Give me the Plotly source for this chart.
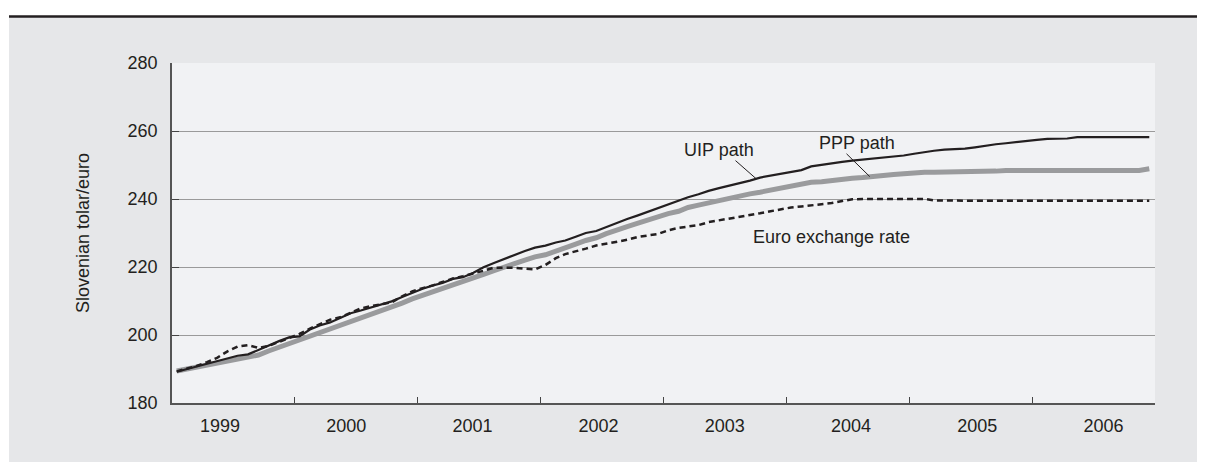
import pandas as pd
import plotly.graph_objects as go

# ---------------- data ----------------
months = pd.date_range("1999-01-01", "2006-12-01", freq="MS") + pd.Timedelta(days=14)

uip_path = [
    189.2, 190.0, 190.7, 191.4, 192.2, 193.0, 193.9, 194.3, 195.6, 197.0, 198.2, 199.3,
    199.6, 201.6, 202.8, 203.7, 205.0, 206.4, 207.2, 208.1, 208.9, 209.9, 211.2, 212.4,
    213.6, 214.6, 215.3, 216.5, 217.0, 218.3, 219.9, 221.2, 222.4, 223.6, 224.7, 225.7,
    226.3, 227.2, 227.8, 228.9, 230.0, 230.6, 231.8, 233.0, 234.1, 235.1, 236.2, 237.3,
    238.4, 239.6, 240.5, 241.4, 242.4, 243.2, 243.9, 244.6, 245.4, 246.3, 246.9, 247.4,
    248.0, 248.5, 249.6, 250.1, 250.4, 250.9, 251.3, 251.6, 251.9, 252.2, 252.4, 252.8,
    253.3, 253.8, 254.2, 254.5, 254.6, 254.8, 255.2, 255.7, 256.1, 256.4, 256.8, 257.1,
    257.4, 257.7, 257.7, 257.8, 258.2, 258.2, 258.2, 258.2, 258.2, 258.2, 258.2, 258.2,
]

ppp_path = [
    189.4, 190.0, 190.6, 191.2, 191.7, 192.2, 192.7, 193.4, 194.1, 195.3, 196.4, 197.5,
    198.3, 199.4, 200.5, 201.6, 202.6, 203.8, 205.0, 206.1, 207.2, 208.3, 209.4, 210.6,
    211.6, 212.6, 213.6, 214.7, 215.7, 216.7, 217.8, 218.9, 219.8, 221.0, 222.0, 223.0,
    223.6, 224.8, 225.5, 226.7, 227.8, 228.6, 229.8, 231.0, 231.9, 232.8, 233.8, 234.8,
    235.7, 236.4, 237.5, 238.2, 238.9, 239.5, 240.3, 240.9, 241.5, 242.0, 242.6, 243.2,
    243.9, 244.4, 244.9, 245.1, 245.5, 245.8, 246.1, 246.3, 246.7, 246.9, 247.2, 247.4,
    247.7, 247.9, 247.9, 247.9, 247.9, 247.9, 247.9, 247.9, 248.2, 248.4, 248.4, 248.4,
    248.4, 248.4, 248.4, 248.4, 248.4, 248.4, 248.4, 248.4, 248.4, 248.4, 248.4, 248.9,
]

euro_rate = [
    189.3, 190.1, 190.9, 192.0, 193.3, 195.2, 196.6, 197.0, 196.2, 196.8, 198.0, 199.1,
    200.3, 201.9, 203.2, 204.5, 205.2, 206.6, 207.8, 208.5, 209.0, 209.6, 211.4, 212.8,
    213.8, 214.6, 215.6, 216.6, 217.3, 218.0, 218.9, 219.8, 219.8, 219.8, 219.5, 219.3,
    220.6, 222.6, 223.8, 224.5, 225.4, 226.3, 226.8, 227.3, 228.0, 228.8, 229.3, 229.7,
    230.8, 231.5, 231.9, 232.3, 233.2, 233.7, 234.2, 234.7, 235.2, 235.8, 236.4, 237.0,
    237.5, 237.8, 238.1, 238.5, 238.8, 239.4, 239.9, 240.0, 240.0, 240.0, 240.0, 240.0,
    240.0, 240.0, 239.6, 239.5, 239.5, 239.5, 239.5, 239.5, 239.5, 239.5, 239.5, 239.5,
    239.5, 239.5, 239.5, 239.5, 239.5, 239.5, 239.5, 239.5, 239.5, 239.5, 239.5, 239.5,
]

year_labels = ["1999", "2000", "2001", "2002", "2003", "2004", "2005", "2006"]
year_ticks = [f"{y}-01-01" for y in range(1999, 2008)]
y_ticks = [180, 200, 220, 240, 260, 280]

# ---------------- styling ----------------
FONT = "Liberation Sans, Arial, sans-serif"
DARK = "#231f20"
OFF = 8                      # default page body margin in front of the figure
PAGE_W, PAGE_H = 1205, 462
W, H = PAGE_W - OFF, PAGE_H - OFF
PL, PR, PT, PB = 172, 1155, 62.5, 402.7   # plot area edges in page pixels
ML, MR, MT, MB = PL - OFF, PAGE_W - PR, PT - OFF, PAGE_H - PB
PW, PH = PR - PL, PB - PT


def px_x(p):
    """page pixel x -> paper coordinate"""
    return (p - PL) / PW


def px_y(p):
    """page pixel y -> paper coordinate"""
    return (PB - p) / PH


fig = go.Figure()

fig.add_trace(go.Scatter(
    x=months, y=ppp_path, mode="lines", name="PPP path",
    line=dict(color="#9a9b9d", width=5), showlegend=False))
fig.add_trace(go.Scatter(
    x=months, y=uip_path, mode="lines", name="UIP path",
    line=dict(color=DARK, width=2.2), showlegend=False))
fig.add_trace(go.Scatter(
    x=months, y=euro_rate, mode="lines", name="Euro exchange rate",
    line=dict(color=DARK, width=2.5, dash="6px,4px"), showlegend=False))
# carrier for the year label axis
fig.add_trace(go.Scatter(x=[None], y=[None], xaxis="x2", showlegend=False,
                         hoverinfo="skip"))

# label axis: positions chosen so labels sit where the reference places them
l0, step = 220, 126.2
fig.update_layout(
    width=W, height=H,
    margin=dict(l=ML, r=MR, t=MT, b=MB, pad=0),
    paper_bgcolor="#e6e7e9",
    plot_bgcolor="#f1f2f4",
    font=dict(family=FONT, size=18, color=DARK),
    xaxis=dict(
        type="date",
        range=["1999-01-01", "2007-01-01"],
        tickvals=year_ticks,
        showticklabels=False,
        ticks="inside", ticklen=6, tickwidth=1.2, tickcolor="#444",
        showline=True, linecolor="#555", linewidth=1.5,
        showgrid=False, zeroline=False,
    ),
    xaxis2=dict(
        overlaying="x", anchor="y", side="bottom",
        range=[(PL - l0) / step, (PR - l0) / step],
        tickvals=list(range(len(year_labels))),
        ticktext=year_labels,
        ticks="", showline=False, showgrid=False, zeroline=False,
        tickfont=dict(size=18, color=DARK),
        ticklabelstandoff=10,
    ),
    yaxis=dict(
        range=[180, 280],
        tickvals=y_ticks,
        ticks="inside", ticklen=7, tickwidth=1.2, tickcolor="#444",
        showline=True, linecolor="#555", linewidth=1.5,
        showgrid=True, gridcolor="#9a9a9a", gridwidth=1,
        zeroline=False,
        tickfont=dict(size=18, color=DARK),
        ticklabelstandoff=9,
    ),
    shapes=[
        dict(type="rect", xref="paper", yref="paper",
             x0=px_x(0), x1=px_x(PAGE_W), y0=px_y(16), y1=px_y(0),
             fillcolor="white", line=dict(width=0), layer="below"),
        dict(type="rect", xref="paper", yref="paper",
             x0=px_x(0), x1=px_x(9), y0=px_y(PAGE_H), y1=px_y(0),
             fillcolor="white", line=dict(width=0), layer="below"),
        dict(type="line", xref="paper", yref="paper",
             x0=px_x(9), x1=px_x(PAGE_W), y0=px_y(16), y1=px_y(16),
             line=dict(color=DARK, width=2.5)),
        # leader lines
        dict(type="line", xref="x", yref="y",
             x0="2003-08-03", y0=251.3, x1="2003-10-03", y1=246.0,
             line=dict(color=DARK, width=1)),
        dict(type="line", xref="x", yref="y",
             x0="2004-06-28", y0=253.3, x1="2004-09-05", y1=246.6,
             line=dict(color=DARK, width=1)),
    ],
    annotations=[
        dict(text="UIP path", x="2003-06-15", y=254.3, xref="x", yref="y",
             showarrow=False, font=dict(size=18, color=DARK),
             xanchor="center", yanchor="middle"),
        dict(text="PPP path", x="2004-07-30", y=256.4, xref="x", yref="y",
             showarrow=False, font=dict(size=18, color=DARK),
             xanchor="center", yanchor="middle"),
        dict(text="Euro exchange rate", x="2004-05-14", y=228.8, xref="x", yref="y",
             showarrow=False, font=dict(size=18, color=DARK),
             xanchor="center", yanchor="middle"),
        dict(text="Slovenian tolar/euro", x=px_x(83), y=0.5,
             xref="paper", yref="paper", textangle=-90, showarrow=False,
             font=dict(size=18, color=DARK), xanchor="center", yanchor="middle"),
    ],
)

fig.write_html("out.html")
